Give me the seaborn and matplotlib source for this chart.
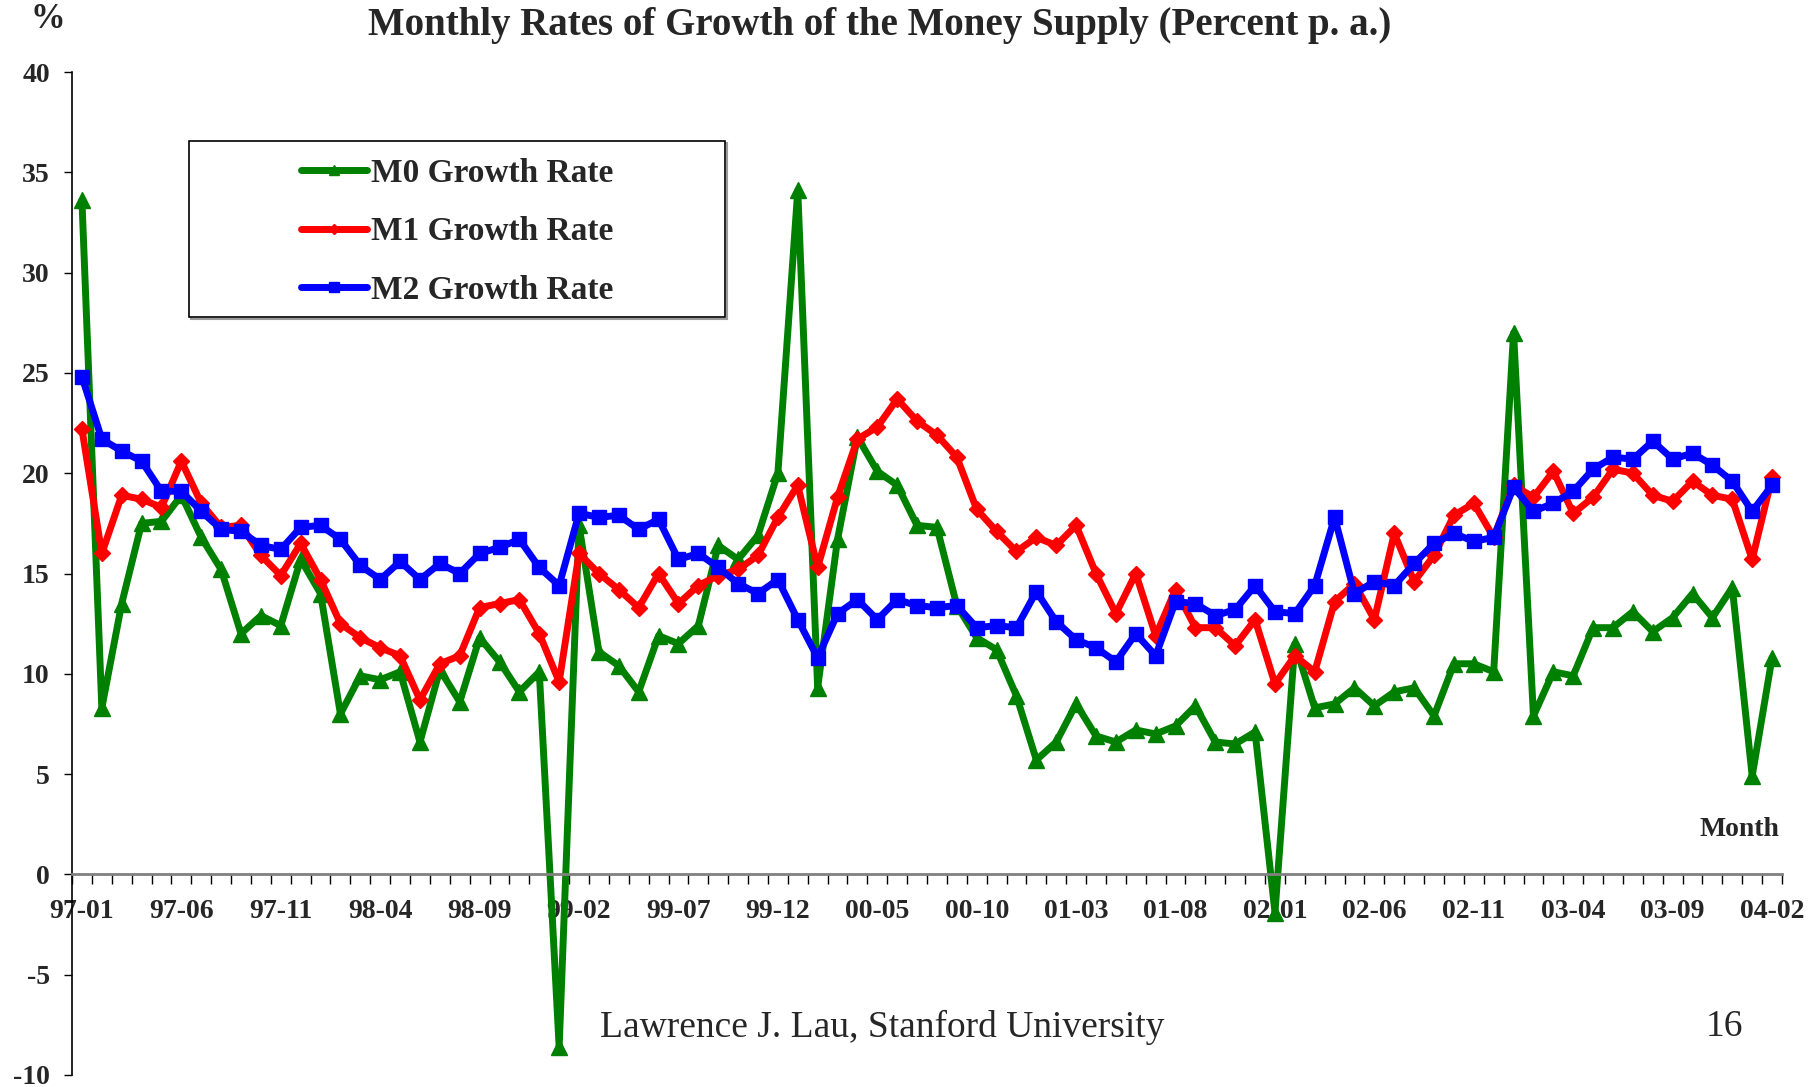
import numpy as np
import pandas as pd
import matplotlib
matplotlib.use("Agg")
import matplotlib.pyplot as plt
import seaborn as sns
from matplotlib.patches import Rectangle
from matplotlib.ticker import FixedLocator

# ---------------- data ----------------
months = pd.period_range("1997-01", "2004-02", freq="M").strftime("%y-%m").tolist()

m0_growth = [33.6, 8.3, 13.5, 17.5, 17.6, 18.9, 16.8, 15.2, 12.0, 12.9,
             12.4, 15.7, 14.0, 8.0, 9.9, 9.7, 10.1, 6.6, 10.2, 8.6,
             11.8, 10.6, 9.1, 10.1, -8.6, 17.4, 11.1, 10.4, 9.1, 11.9,
             11.5, 12.4, 16.4, 15.7, 16.9, 20.0, 34.1, 9.3, 16.7, 21.8,
             20.1, 19.4, 17.4, 17.3, 13.4, 11.8, 11.2, 8.9, 5.7, 6.6,
             8.5, 6.9, 6.6, 7.2, 7.0, 7.4, 8.4, 6.6, 6.5, 7.1,
             -1.9, 11.5, 8.3, 8.5, 9.3, 8.4, 9.1, 9.3, 7.9, 10.5,
             10.5, 10.1, 27.0, 7.9, 10.1, 9.9, 12.3, 12.3, 13.1, 12.1,
             12.8, 14.0, 12.8, 14.3, 4.9, 10.8]

m1_growth = [22.2, 16.0, 18.9, 18.7, 18.3, 20.6, 18.5, 17.3, 17.4, 15.9,
             14.9, 16.5, 14.7, 12.5, 11.8, 11.3, 10.9, 8.7, 10.5, 10.9,
             13.3, 13.5, 13.7, 12.0, 9.6, 16.0, 15.0, 14.2, 13.3, 15.0,
             13.5, 14.4, 14.9, 15.2, 15.9, 17.8, 19.4, 15.3, 18.8, 21.7,
             22.3, 23.7, 22.6, 21.9, 20.8, 18.2, 17.1, 16.1, 16.8, 16.4,
             17.4, 15.0, 13.0, 15.0, 11.9, 14.2, 12.3, 12.3, 11.4, 12.7,
             9.5, 10.9, 10.1, 13.6, 14.5, 12.7, 17.0, 14.6, 15.9, 17.9,
             18.5, 16.8, 19.4, 18.8, 20.1, 18.0, 18.8, 20.2, 20.0, 18.9,
             18.6, 19.6, 18.9, 18.7, 15.7, 19.8]

m2_growth = [24.8, 21.7, 21.1, 20.6, 19.1, 19.1, 18.1, 17.2, 17.1, 16.4,
             16.2, 17.3, 17.4, 16.7, 15.4, 14.7, 15.6, 14.7, 15.5, 15.0,
             16.0, 16.3, 16.7, 15.3, 14.4, 18.0, 17.8, 17.9, 17.2, 17.7,
             15.7, 16.0, 15.3, 14.5, 14.0, 14.7, 12.7, 10.8, 13.0, 13.7,
             12.7, 13.7, 13.4, 13.3, 13.4, 12.3, 12.4, 12.3, 14.1, 12.6,
             11.7, 11.3, 10.6, 12.0, 10.9, 13.6, 13.5, 12.9, 13.2, 14.4,
             13.1, 13.0, 14.4, 17.8, 14.0, 14.6, 14.4, 15.5, 16.5, 17.0,
             16.6, 16.8, 19.3, 18.1, 18.5, 19.1, 20.2, 20.8, 20.7, 21.6,
             20.7, 21.0, 20.4, 19.6, 18.1, 19.4]

tick_labels = ["97-01", "97-06", "97-11", "98-04", "98-09", "99-02", "99-07",
               "99-12", "00-05", "00-10", "01-03", "01-08", "02-01", "02-06",
               "02-11", "03-04", "03-09", "04-02"]
y_ticks = [-10, -5, 0, 5, 10, 15, 20, 25, 30, 35, 40]
y_tick_labels = ["-10", "-5", "0", "5", "10", "15", "20", "25", "30", "35", "40"]

series_names = ["M0 Growth Rate", "M1 Growth Rate", "M2 Growth Rate"]
series_colors = ["#008000", "#FF0000", "#0000FF"]
series_markers = ["^", "D", "s"]
series_msize = [11, 8, 10]

df = pd.DataFrame({
    "month": months,
    "idx": np.arange(len(months)),
    series_names[0]: m0_growth,
    series_names[1]: m1_growth,
    series_names[2]: m2_growth,
})

# ---------------- style ----------------
sns.set_theme(style="white")
plt.rcParams["font.family"] = ["Liberation Serif", "DejaVu Serif"]

fig = plt.figure(figsize=(18.17, 10.87), dpi=100)
ax = fig.add_axes([72 / 1817, 1 - 1075 / 1087, (1782 - 72) / 1817, (1075 - 72) / 1087])

for name, col, mk, ms in zip(series_names, series_colors, series_markers, series_msize):
    sns.lineplot(data=df, x="idx", y=name, ax=ax, color=col, marker=mk,
                 markersize=ms, markeredgecolor=col, markeredgewidth=1,
                 linewidth=5, label=name, legend=False)

ax.set_xlim(-0.5, len(months) - 0.5)
ax.set_ylim(-10, 40)

# x axis at y = 0
ax.spines["bottom"].set_position(("data", 0))
ax.spines["bottom"].set_color("#808080")
ax.spines["bottom"].set_linewidth(2)
ax.spines["left"].set_color("black")
ax.spines["left"].set_linewidth(1.2)
ax.spines["top"].set_visible(False)
ax.spines["right"].set_visible(False)

label_pos = [months.index(t) for t in tick_labels]
ax.set_xticks(label_pos)
ax.set_xticklabels(tick_labels, fontsize=20, fontweight="bold")
ax.xaxis.set_minor_locator(FixedLocator(np.arange(-0.5, len(months), 1.0)))
ax.tick_params(axis="x", which="major", length=0, pad=18)
ax.tick_params(axis="x", which="minor", direction="out", length=7, width=1,
               color="black", bottom=True)

ax.set_yticks(y_ticks)
ax.set_yticklabels(y_tick_labels, fontsize=20, fontweight="bold")
ax.tick_params(axis="y", which="major", direction="out", length=6, width=1,
               color="black", left=True, pad=10)

ax.set_xlabel("")
ax.set_ylabel("")
ax.grid(False)

# ---------------- texts ----------------
fig.text(880 / 1817, 1 - 25 / 1087,
         "Monthly Rates of Growth of the Money Supply (Percent p. a.)",
         ha="center", va="center", fontsize=28, fontweight="bold")
fig.text(48 / 1817, 1 - 20 / 1087, "%", ha="center", va="center",
         fontsize=25, fontweight="bold")
fig.text(1779 / 1817, 1 - 830 / 1087, "Month", ha="right", va="center",
         fontsize=20, fontweight="bold")
fig.text(882 / 1817, 1 - 1027 / 1087, "Lawrence J. Lau, Stanford University",
         ha="center", va="center", fontsize=27)
fig.text(1724 / 1817, 1 - 1027 / 1087, "16", ha="center", va="center",
         fontsize=27)

# ---------------- legend ----------------
shadow = Rectangle((191 / 1817, 1 - 319 / 1087), 536 / 1817, 176 / 1087,
                   transform=fig.transFigure, fill=False,
                   edgecolor="#9a9a9a", linewidth=1.5, zorder=2)
box = Rectangle((189 / 1817, 1 - 317 / 1087), 536 / 1817, 176 / 1087,
                transform=fig.transFigure, facecolor="white",
                edgecolor="black", linewidth=1.2, zorder=3)
fig.patches.extend([shadow, box])
handles, labels = ax.get_legend_handles_labels()
leg = fig.legend(handles, labels, loc="center",
                 bbox_to_anchor=(457 / 1817, 1 - 232 / 1087),
                 bbox_transform=fig.transFigure, frameon=False,
                 prop={"family": ["Liberation Serif"], "weight": "bold", "size": 24},
                 handlelength=2.0, handletextpad=0.1, labelspacing=0.83,
                 markerscale=0.7)
leg.set_zorder(10)

fig.savefig("out.png", dpi=100)
